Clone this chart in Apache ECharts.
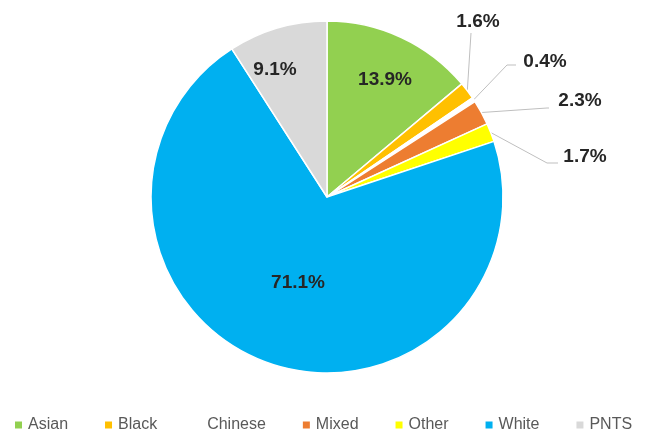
<!DOCTYPE html>
<html>
<head>
<meta charset="utf-8">
<script src="https://cdn.jsdelivr.net/npm/echarts@6/dist/echarts.min.js"></script>
<style>
  html, body { margin: 0; padding: 0; background: #fff; }
  #chart { width: 654px; height: 434px; }
</style>
</head>
<body>
<div id="chart"></div>
<script>
  // 数据
  var categories = ['Asian', 'Black', 'Chinese', 'Mixed', 'Other', 'White', 'PNTS'];
  var values = [13.9, 1.6, 0.4, 2.3, 1.7, 71.1, 9.1];
  var colors = ['#92D050', '#FFC000', '#FFFFFF', '#ED7D31', '#FFFF00', '#00B0F0', '#D9D9D9'];

  // 标签位置（布局）
  var insideIdx = [0, 5, 6];
  var labelPos = [[385, 80], [478, 22], [545, 62], [580, 101], [585, 157], [298, 283], [275, 70]];
  var lineBend = [null, [471, 33], [507, 65], [547, 108], [547, 163], null, null];
  var lineEnd = [null, [471, 33], [516, 65], [549, 108], [558, 163], null, null];

  var cx = 327, cy = 197, R = 176;
  var total = values.reduce(function (a, b) { return a + b; }, 0);

  function midAngle(i) {
    var before = 0;
    for (var k = 0; k < i; k++) before += values[k];
    var mid = before + values[i] / 2;
    return (90 - mid / total * 360) * Math.PI / 180;
  }

  var myChart = echarts.init(document.getElementById('chart'));
  myChart.setOption({
    animation: false,
    color: colors,
    legend: {
      data: categories,
      left: 8,
      top: 412,
      width: 646,
      icon: 'rect',
      itemWidth: 9,
      itemHeight: 9,
      itemGap: 35,
      textStyle: {
        fontFamily: 'Liberation Sans',
        fontSize: 16,
        color: '#595959'
      }
    },
    series: [{
      type: 'pie',
      center: [cx, cy],
      radius: R,
      startAngle: 90,
      clockwise: true,
      itemStyle: {
        borderColor: '#fff',
        borderWidth: 1.5
      },
      label: {
        show: true,
        position: 'outside',
        formatter: function (p) { return p.value.toFixed(1) + '%'; },
        fontFamily: 'Liberation Sans',
        fontWeight: 'bold',
        fontSize: 19,
        color: '#262626'
      },
      labelLine: {
        show: true,
        lineStyle: { color: '#BFBFBF', width: 1 }
      },
      labelLayout: function (params) {
        var i = params.dataIndex;
        var res = {
          x: labelPos[i][0],
          y: labelPos[i][1],
          align: 'center',
          verticalAlign: 'middle'
        };
        if (lineEnd[i]) {
          var a = midAngle(i);
          var start = [cx + R * Math.cos(a), cy - R * Math.sin(a)];
          res.labelLinePoints = [start, lineBend[i], lineEnd[i]];
        }
        return res;
      },
      data: categories.map(function (name, i) {
        var item = { name: name, value: values[i] };
        if (insideIdx.indexOf(i) >= 0) {
          item.labelLine = { show: false };
        }
        return item;
      })
    }]
  });
</script>
</body>
</html>
